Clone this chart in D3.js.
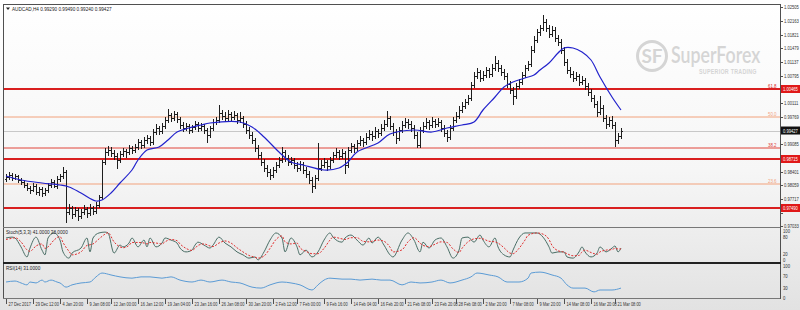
<!DOCTYPE html>
<html><head><meta charset="utf-8">
<script src="https://cdn.jsdelivr.net/npm/d3@7"></script>
<style>html,body{margin:0;padding:0;background:#fff;}svg{display:block;font-family:"Liberation Sans",Arial,sans-serif;}</style>
</head><body><svg id="c" width="800" height="310"></svg>
<script>
const symbol = "AUDCAD,H4";
// OHLC bars [open, high, low, close]
const ohlc = [
[0.98215,0.98340,0.98165,0.98265],[0.98265,0.98390,0.98215,0.98315],[0.98315,0.98365,0.98190,0.98240],[0.98240,0.98340,0.98215,0.98290],
[0.98290,0.98315,0.98140,0.98190],[0.98190,0.98240,0.98090,0.98140],[0.98140,0.98190,0.98015,0.98065],[0.98065,0.98115,0.97940,0.97990],
[0.97990,0.98040,0.97865,0.97940],[0.97940,0.98115,0.97915,0.98040],[0.98040,0.98090,0.97840,0.97890],[0.97890,0.98015,0.97815,0.97965],
[0.97965,0.98015,0.97790,0.97865],[0.97865,0.97990,0.97815,0.97940],[0.97940,0.98115,0.97890,0.98065],[0.98065,0.98215,0.98015,0.98140],
[0.98140,0.98190,0.98015,0.98040],[0.98040,0.98290,0.97990,0.98215],[0.98215,0.98340,0.98165,0.98290],[0.98290,0.98515,0.98240,0.98390],
[0.98390,0.98440,0.97140,0.97390],[0.97390,0.97590,0.97340,0.97490],[0.97490,0.97540,0.97240,0.97340],[0.97340,0.97515,0.97290,0.97440],
[0.97440,0.97490,0.97190,0.97290],[0.97290,0.97465,0.97240,0.97390],[0.97390,0.97565,0.97340,0.97465],[0.97465,0.97515,0.97265,0.97365],
[0.97365,0.97590,0.97315,0.97490],[0.97490,0.97540,0.97340,0.97415],[0.97415,0.97640,0.97365,0.97565],[0.97565,0.97815,0.97515,0.97765],
[0.97765,0.98690,0.97715,0.98640],[0.98640,0.98990,0.98590,0.98890],[0.98890,0.99040,0.98815,0.98940],[0.98940,0.99015,0.98790,0.98865],
[0.98865,0.98940,0.98715,0.98790],[0.98790,0.98865,0.98490,0.98690],[0.98690,0.98915,0.98640,0.98840],[0.98840,0.98990,0.98790,0.98915],
[0.98915,0.98965,0.98765,0.98890],[0.98890,0.99065,0.98840,0.98990],[0.98990,0.99040,0.98865,0.98940],[0.98940,0.99090,0.98890,0.99015],
[0.99015,0.99215,0.98965,0.99140],[0.99140,0.99190,0.98990,0.99065],[0.99065,0.99265,0.99015,0.99190],[0.99190,0.99315,0.99115,0.99240],
[0.99240,0.99290,0.99065,0.99140],[0.99140,0.99465,0.99090,0.99390],[0.99390,0.99590,0.99340,0.99490],[0.99490,0.99540,0.99340,0.99415],
[0.99415,0.99615,0.99365,0.99540],[0.99540,0.99765,0.99490,0.99690],[0.99690,0.99965,0.99640,0.99815],[0.99815,0.99865,0.99665,0.99740],
[0.99740,0.99915,0.99690,0.99840],[0.99840,0.99890,0.99640,0.99715],[0.99715,0.99765,0.99490,0.99565],[0.99565,0.99640,0.99415,0.99490],
[0.99490,0.99615,0.99440,0.99540],[0.99540,0.99590,0.99365,0.99440],[0.99440,0.99565,0.99390,0.99515],[0.99515,0.99665,0.99465,0.99590],
[0.99590,0.99640,0.99415,0.99490],[0.99490,0.99615,0.99440,0.99540],[0.99540,0.99590,0.99365,0.99440],[0.99440,0.99490,0.99140,0.99315],
[0.99315,0.99540,0.99265,0.99490],[0.99490,0.99715,0.99440,0.99640],[0.99640,0.99765,0.99590,0.99690],[0.99690,1.00065,0.99640,0.99865],
[0.99865,0.99940,0.99715,0.99790],[0.99790,0.99890,0.99665,0.99740],[0.99740,0.99940,0.99690,0.99840],[0.99840,0.99890,0.99690,0.99765],
[0.99765,0.99915,0.99715,0.99815],[0.99815,0.99865,0.99615,0.99690],[0.99690,0.99890,0.99640,0.99740],[0.99740,0.99790,0.99515,0.99590],
[0.99590,0.99665,0.99365,0.99440],[0.99440,0.99515,0.99240,0.99315],[0.99315,0.99390,0.99115,0.99190],[0.99190,0.99240,0.98915,0.98990],
[0.98990,0.99065,0.98740,0.98815],[0.98815,0.98890,0.98565,0.98640],[0.98640,0.98715,0.98415,0.98490],[0.98490,0.98565,0.98290,0.98390],
[0.98390,0.98465,0.98215,0.98315],[0.98315,0.98515,0.98265,0.98440],[0.98440,0.98640,0.98390,0.98565],[0.98565,0.98765,0.98515,0.98690],
[0.98690,0.99015,0.98640,0.98890],[0.98890,0.98940,0.98665,0.98740],[0.98740,0.98815,0.98565,0.98640],[0.98640,0.98765,0.98590,0.98690],
[0.98690,0.98740,0.98490,0.98565],[0.98565,0.98640,0.98415,0.98490],[0.98490,0.98665,0.98440,0.98590],[0.98590,0.98640,0.98365,0.98440],
[0.98440,0.98515,0.98265,0.98340],[0.98340,0.98415,0.98115,0.98190],[0.98190,0.98265,0.97890,0.98040],[0.98040,0.98315,0.97990,0.98240],
[0.98240,0.99115,0.98190,0.98490],[0.98490,0.98690,0.98440,0.98565],[0.98565,0.98740,0.98515,0.98640],[0.98640,0.98690,0.98440,0.98540],
[0.98540,0.98765,0.98490,0.98690],[0.98690,0.98890,0.98640,0.98815],[0.98815,0.98990,0.98765,0.98890],[0.98890,0.98940,0.98715,0.98790],
[0.98790,0.98965,0.98740,0.98865],[0.98865,0.98915,0.98365,0.98565],[0.98565,0.99015,0.98515,0.98940],[0.98940,0.99115,0.98890,0.99040],
[0.99040,0.99090,0.98890,0.98990],[0.98990,0.99190,0.98940,0.99115],[0.99115,0.99290,0.99065,0.99190],[0.99190,0.99240,0.99040,0.99140],
[0.99140,0.99365,0.99090,0.99265],[0.99265,0.99440,0.99215,0.99340],[0.99340,0.99415,0.99190,0.99290],[0.99290,0.99515,0.99240,0.99415],
[0.99415,0.99465,0.99265,0.99365],[0.99365,0.99590,0.99315,0.99490],[0.99490,0.99690,0.99440,0.99590],[0.99590,0.99915,0.99540,0.99740],
[0.99740,0.99790,0.99465,0.99540],[0.99540,0.99615,0.99315,0.99390],[0.99390,0.99465,0.99115,0.99240],[0.99240,0.99515,0.99190,0.99440],
[0.99440,0.99665,0.99390,0.99565],[0.99565,0.99740,0.99515,0.99640],[0.99640,0.99715,0.99490,0.99590],[0.99590,0.99665,0.99415,0.99490],
[0.99490,0.99565,0.99240,0.99315],[0.99315,0.99390,0.99015,0.99065],[0.99065,0.99515,0.99015,0.99440],[0.99440,0.99640,0.99390,0.99540],
[0.99540,0.99740,0.99490,0.99640],[0.99640,0.99690,0.99465,0.99565],[0.99565,0.99765,0.99515,0.99665],[0.99665,0.99715,0.99515,0.99590],
[0.99590,0.99740,0.99540,0.99640],[0.99640,0.99690,0.99415,0.99490],[0.99490,0.99565,0.99290,0.99365],[0.99365,0.99440,0.99165,0.99265],
[0.99265,0.99565,0.99215,0.99490],[0.99490,0.99765,0.99440,0.99690],[0.99690,0.99890,0.99640,0.99790],[0.99790,1.00040,0.99740,0.99940],
[0.99940,1.00140,0.99890,1.00040],[1.00040,1.00215,0.99990,1.00140],[1.00140,1.00315,1.00090,1.00240],[1.00240,1.00640,1.00190,1.00565],
[1.00565,1.00890,1.00515,1.00790],[1.00790,1.00990,1.00740,1.00890],[1.00890,1.00940,1.00665,1.00740],[1.00740,1.00915,1.00690,1.00815],
[1.00815,1.01015,1.00765,1.00940],[1.00940,1.00990,1.00765,1.00840],[1.00840,1.01090,1.00790,1.00990],[1.00990,1.01290,1.00940,1.01115],
[1.01115,1.01190,1.00915,1.00990],[1.00990,1.01065,1.00815,1.00890],[1.00890,1.00965,1.00715,1.00790],[1.00790,1.00865,1.00515,1.00590],
[1.00590,1.00665,1.00365,1.00440],[1.00440,1.00515,1.00090,1.00290],[1.00290,1.00615,1.00240,1.00540],[1.00540,1.00715,1.00490,1.00640],
[1.00640,1.00890,1.00590,1.00815],[1.00815,1.01065,1.00765,1.00990],[1.00990,1.01165,1.00940,1.01090],[1.01090,1.01540,1.01040,1.01440],
[1.01440,1.01790,1.01390,1.01690],[1.01690,1.01965,1.01640,1.01890],[1.01890,1.02065,1.01815,1.01990],[1.01990,1.02315,1.01940,1.02140],
[1.02140,1.02215,1.01915,1.01990],[1.01990,1.02065,1.01765,1.01840],[1.01840,1.02040,1.01790,1.01940],[1.01940,1.02015,1.01665,1.01740],
[1.01740,1.01815,1.01565,1.01640],[1.01640,1.01715,1.01365,1.01440],[1.01440,1.01515,1.01065,1.01140],[1.01140,1.01215,1.00865,1.00940],
[1.00940,1.01015,1.00765,1.00840],[1.00840,1.00915,1.00665,1.00740],[1.00740,1.00890,1.00690,1.00790],[1.00790,1.00840,1.00565,1.00640],
[1.00640,1.00790,1.00590,1.00690],[1.00690,1.00740,1.00465,1.00540],[1.00540,1.00615,1.00315,1.00390],[1.00390,1.00465,1.00165,1.00240],
[1.00240,1.00315,1.00015,1.00090],[1.00090,1.00165,0.99790,0.99890],[0.99890,1.00290,0.99840,0.99990],[0.99990,1.00065,0.99665,0.99740],
[0.99740,0.99815,0.99490,0.99590],[0.99590,0.99765,0.99540,0.99690],[0.99690,0.99790,0.99490,0.99565],[0.99565,0.99640,0.99040,0.99190],
[0.99190,0.99365,0.99115,0.99290],[0.99290,0.99490,0.99240,0.99427]
];
// moving average, read at bar indices
const maIdx   = [0,5,12,18,21,25,30,32,35,38,42,44,47,51,54,57,61,65,68,78,82,86,91,95,99,106,111,114,117,124,128,136,142,147,152,156,159,163,166,169,173,176,178,181,184,186,189,192,195,198,202,205];
const maValue = [0.98290,0.98190,0.98115,0.98065,0.98015,0.97865,0.97665,0.97690,0.97865,0.98115,0.98440,0.98690,0.98940,0.99015,0.99190,0.99390,0.99490,0.99565,0.99615,0.99640,0.99515,0.99265,0.98890,0.98640,0.98565,0.98440,0.98490,0.98640,0.98890,0.99115,0.99340,0.99440,0.99390,0.99490,0.99565,0.99640,0.99940,1.00265,1.00515,1.00640,1.00740,1.00815,1.00940,1.01115,1.01365,1.01490,1.01490,1.01390,1.01190,1.00765,1.00265,0.99940];
// stochastic oscillator
const stochIdx = [0,2,3,5,7,8,10,12,13,14,16,18,19,21,22,25,27,28,29,31,33,34,36,38,39,41,42,44,46,47,48,50,52,53,55,57,58,60,62,63,64,66,68,69,71,73,75,77,79,81,83,84,86,88,90,92,93,95,97,98,100,102,104,106,108,109,112,113,115,117,119,121,122,124,126,128,129,132,134,136,138,139,141,143,145,147,149,151,152,154,156,158,159,161,163,164,166,168,169,171,173,174,177,179,181,182,184,186,187,189,191,192,193,195,197,198,200,202,203,204,205];
const stochMain = [75,78,75,45,11,41,78,34,18,75,92,68,28,7,24,41,75,28,75,92,95,92,24,51,45,58,75,45,68,45,75,45,58,75,68,58,41,28,34,51,61,51,41,51,78,58,45,28,18,7,11,1,28,68,92,75,28,75,45,18,34,11,28,68,92,78,61,75,85,68,51,75,58,78,51,18,11,68,92,68,28,61,41,68,75,45,7,34,75,78,61,85,68,45,75,45,18,11,34,75,92,92,92,78,45,24,28,28,11,7,28,45,28,11,24,45,28,41,48,28,41];
const stochSignal = [70,74,76,62,35,30,48,55,40,45,68,80,60,30,18,28,50,52,55,72,88,93,62,45,42,50,60,60,58,55,60,58,55,62,70,66,55,40,33,40,50,55,48,46,58,65,58,42,28,16,10,7,14,40,70,82,62,55,58,42,30,22,22,40,68,78,72,70,76,76,64,62,64,68,64,44,28,35,62,76,58,50,46,54,62,60,38,26,40,62,72,74,72,64,62,58,42,24,22,40,68,84,92,88,70,50,32,27,22,15,16,28,34,26,20,28,34,36,40,38,38];
// RSI
const rsiIdx = [0,3,5,7,8,10,12,13,15,17,18,20,22,25,28,30,32,35,38,42,45,48,52,55,58,62,65,68,72,75,78,82,85,88,92,95,98,102,104,106,108,112,115,118,122,125,128,132,135,138,142,145,148,152,155,157,161,164,167,171,174,175,178,182,185,187,189,193,196,198,202,205];
const rsiValue = [50,53,47,41,50,47,56,50,56,50,47,34,41,47,50,66,78,72,66,62,66,66,62,66,56,50,56,50,56,50,47,34,31,41,50,47,41,25,41,56,62,59,59,56,59,56,56,41,50,47,50,56,47,56,66,78,72,66,50,50,62,78,81,72,62,41,31,31,19,25,25,31];
// horizontal levels
const levelPrice = [1.00465,0.99765,0.98990,0.98715,0.98090,0.97490];
const levelText  = ["61.8","50.0","38.2","","23.6",""];
const levelKind  = ["major","fib","fibred","major","fib","major"];
// axis ticks
const priceTicks = [1.02505,1.02163,1.01821,1.01479,1.01137,1.00795,1.00453,1.00111,0.99769,0.99427,0.99085,0.98743,0.98401,0.98059,0.97717,0.97375,0.97033];
const timeIdx = [0,9,18,27,35,44,53,62,71,80,89,97,106,115,124,133,142,150,159,168,177,186,195,203];
const timeLabels = ["27 Dec 2017","29 Dec 12:00","4 Jan 20:00","9 Jan 08:00","12 Jan 00:00","16 Jan 12:00","19 Jan 04:00","23 Jan 16:00","26 Jan 08:00","30 Jan 20:00","2 Feb 12:00","7 Feb 00:00","9 Feb 16:00","14 Feb 04:00","16 Feb 20:00","21 Feb 08:00","23 Feb 20:00","28 Feb 08:00","2 Mar 20:00","7 Mar 08:00","9 Mar 20:00","14 Mar 08:00","16 Mar 20:00","21 Mar 08:00"];
const stochTicks = [100,80,20,0];
const rsiTicks = [100,70,30,0];

const svg = d3.select("#c");
const AX = 780, L = 3;
const defs = svg.append("defs");
const g = defs.append("linearGradient").attr("id","bg").attr("x1",0).attr("y1",0).attr("x2",0).attr("y2",1);
g.append("stop").attr("offset","0%").attr("stop-color","#ffffff");
g.append("stop").attr("offset","55%").attr("stop-color","#f6f6f6");
g.append("stop").attr("offset","100%").attr("stop-color","#e2e2e2");
svg.append("rect").attr("width",800).attr("height",310).attr("fill","url(#bg)");
defs.append("clipPath").attr("id","mainclip").append("rect").attr("x",L).attr("y",5).attr("width",AX-L).attr("height",222);

const x = d3.scaleLinear().domain([0,205]).range([6,621]);
const y = d3.scaleLinear().domain([1.0269,0.9769]).range([0,200]);
const yS = d3.scaleLinear().domain([0,100]).range([260.2,230.6]);
const yR = d3.scaleLinear().domain([0,100]).range([298,266]);
const px = v => Math.round(v)+0.5;
// condensed small text helper: text placed at (tx,ty), squeezed horizontally
function small(parent, tx, ty, str, size, sx, fill){
  return parent.append("text").attr("transform",`translate(${tx},${ty}) scale(${sx},1)`)
    .attr("font-size",size).attr("fill",fill||"#333").text(str);
}

// watermark
const wm = svg.append("g").attr("fill","#d5d5d5");
wm.append("circle").attr("cx",652).attr("cy",56).attr("r",14.5).attr("fill","none").attr("stroke","#d5d5d5").attr("stroke-width",3);
wm.append("text").attr("x",652).attr("y",63).attr("text-anchor","middle").attr("font-size",19).attr("font-weight","bold").attr("font-family","Lato, 'Open Sans', sans-serif").text("SF");
wm.append("text").attr("transform","translate(671,63) scale(0.772,1)").attr("font-size",23).attr("font-weight","600").attr("font-family","Lato, 'Open Sans', sans-serif").text("SuperForex");
wm.append("text").attr("transform","translate(699,74) scale(0.85,1)").attr("font-size",6.3).attr("font-weight","bold").attr("letter-spacing",0.3).text("SUPERIOR TRADING");

const main = svg.append("g").attr("clip-path","url(#mainclip)");
// current price line
const last = ohlc[ohlc.length-1];
main.append("line").attr("x1",L).attr("x2",AX).attr("y1",px(y(last[3]))).attr("y2",px(y(last[3]))).attr("stroke","#c8c8c8").attr("stroke-width",1);
// levels
levelPrice.forEach((p,i)=>{
  const k = levelKind[i];
  const col = k==="major" ? "#d91f1f" : (k==="fibred" ? "#e0453a" : "#f2a27c");
  const sw = k==="major" ? 2.2 : 1;
  main.append("line").attr("x1",L).attr("x2",AX).attr("y1",y(p)).attr("y2",y(p)).attr("stroke",col).attr("stroke-width",sw);
  if (levelText[i]) small(svg, AX-12, y(p)-1.5, levelText[i], 5.5, 0.8, col);
});
// bars
const bars = main.append("g").attr("stroke","#1e1e1e").attr("stroke-width",1).attr("shape-rendering","crispEdges");
ohlc.forEach((b,i)=>{
  const xi = Math.round(x(i))+0.5;
  bars.append("line").attr("x1",xi).attr("x2",xi).attr("y1",Math.round(y(b[1]))).attr("y2",Math.round(y(b[2]))+1);
  bars.append("line").attr("x1",xi-1.5).attr("x2",xi).attr("y1",px(y(b[0]))).attr("y2",px(y(b[0])));
  bars.append("line").attr("x1",xi).attr("x2",xi+1.5).attr("y1",px(y(b[3]))).attr("y2",px(y(b[3])));
});
// MA
main.append("path").attr("d", d3.line().curve(d3.curveCatmullRom)(maIdx.map((d,i)=>[x(d),y(maValue[i])])))
  .attr("fill","none").attr("stroke","#2222cc").attr("stroke-width",1.2);

// stochastic
svg.append("path").attr("d", d3.line().curve(d3.curveMonotoneX)(stochIdx.map((d,i)=>[x(d),yS(stochMain[i])])))
  .attr("fill","none").attr("stroke","#4a6e66").attr("stroke-width",1);
svg.append("path").attr("d", d3.line().curve(d3.curveMonotoneX)(stochIdx.map((d,i)=>[x(d),yS(stochSignal[i])])))
  .attr("fill","none").attr("stroke","#e03030").attr("stroke-width",1).attr("stroke-dasharray","2,1.5");
// RSI
svg.append("path").attr("d", d3.line().curve(d3.curveMonotoneX)(rsiIdx.map((d,i)=>[x(d),yR(rsiValue[i])])))
  .attr("fill","none").attr("stroke","#5b9bd5").attr("stroke-width",1);

// frames
const fr = svg.append("g").attr("stroke","#505050").attr("shape-rendering","crispEdges");
fr.append("line").attr("x1",L).attr("x2",AX).attr("y1",4.5).attr("y2",4.5);
fr.append("line").attr("x1",L+0.5).attr("x2",L+0.5).attr("y1",4).attr("y2",299);
fr.append("line").attr("x1",AX+0.5).attr("x2",AX+0.5).attr("y1",4).attr("y2",299);
fr.append("line").attr("x1",L).attr("x2",AX).attr("y1",227.5).attr("y2",227.5).attr("stroke","#777");
fr.append("line").attr("x1",L).attr("x2",AX+1).attr("y1",263).attr("y2",263).attr("stroke","#222").attr("stroke-width",2);
fr.append("line").attr("x1",L).attr("x2",AX).attr("y1",298.5).attr("y2",298.5).attr("stroke","#777");

// price axis (labels hidden under price boxes are skipped)
const boxPrices = levelPrice.filter((p,i)=>levelKind[i]==="major").concat([last[3]]);
const ax = svg.append("g");
priceTicks.forEach(t=>{
  ax.append("line").attr("x1",AX).attr("x2",AX+3).attr("y1",px(y(t))).attr("y2",px(y(t))).attr("stroke","#505050");
  if (boxPrices.some(b=>Math.abs(y(b)-y(t))<8)) return;
  small(ax, AX+4, y(t)+2, t.toFixed(5), 5.5, 0.75);
});
// level boxes
levelPrice.forEach((p,i)=>{
  if (levelKind[i]!=="major") return;
  svg.append("rect").attr("x",AX+1).attr("y",y(p)-4).attr("width",19).attr("height",8).attr("fill","#e01818");
  small(svg, AX+3, y(p)+2, p.toFixed(5), 5.5, 0.75, "#fff");
});
svg.append("rect").attr("x",AX+1).attr("y",y(last[3])-4).attr("width",19).attr("height",8).attr("fill","#111");
small(svg, AX+3, y(last[3])+2, last[3].toFixed(5), 5.5, 0.75, "#fff");

// indicator axes
stochTicks.forEach(t=>small(svg, AX+3, yS(t)+2, String(t), 5, 0.85));
rsiTicks.forEach(t=>small(svg, AX+3, yR(t)+2, String(t), 5, 0.85));

// time axis
timeIdx.forEach((d,i)=>{
  const xi = Math.round(x(d))+0.5;
  svg.append("line").attr("x1",xi).attr("x2",xi).attr("y1",299).attr("y2",304).attr("stroke","#505050");
  small(svg, xi+2, 305.5, timeLabels[i], 5.5, 0.72);
});

// titles
svg.append("path").attr("d","M6,7.5 L10,7.5 L8,10 Z").attr("fill","#222");
small(svg, 12, 10.5, symbol+" "+last.map(v=>v.toFixed(5)).join(" "), 5.5, 0.85, "#222");
small(svg, 6, 234, "Stoch(5,3,3) "+stochMain[stochMain.length-1].toFixed(4)+" "+stochSignal[stochSignal.length-1].toFixed(4), 5.5, 0.85, "#222");
small(svg, 6, 270, "RSI(14) "+rsiValue[rsiValue.length-1].toFixed(4), 5.5, 0.85, "#222");
</script></body></html>
